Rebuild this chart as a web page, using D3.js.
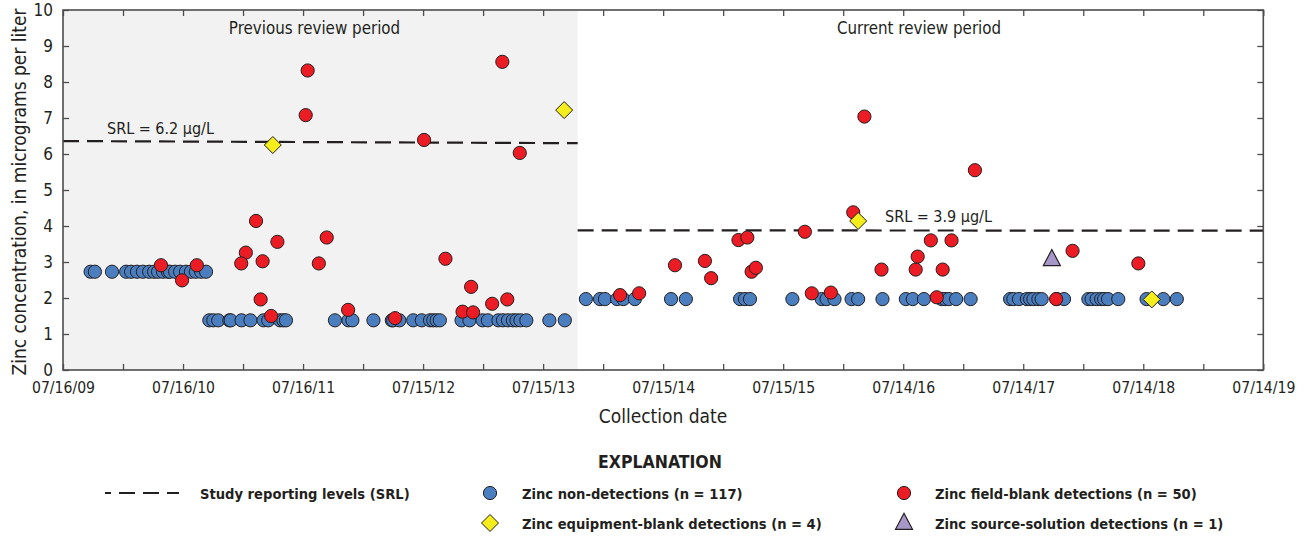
<!DOCTYPE html>
<html><head><meta charset="utf-8">
<script src="https://cdn.jsdelivr.net/npm/d3@7"></script>
<style>
body{margin:0;background:#fff}
text{font-family:"DejaVu Sans Condensed","Liberation Sans Narrow",sans-serif;fill:#231f20}
</style>
</head><body>
<svg id="c" width="1304" height="537"></svg>
<script>
// ---------- data ----------
const xDomain = ["2009-07-16", "2019-07-14"];
const xTickLabels = ["07/16/09","07/16/10","07/16/11","07/15/12","07/15/13","07/15/14","07/15/15","07/14/16","07/14/17","07/14/18","07/14/19"];
const yTicks = [0,1,2,3,4,5,6,7,8,9,10];
const periodBoundary = "2013-10-28";
const periodLabels = ["Previous review period", "Current review period"];

const srlLabels = ["SRL = 6.2 µg/L", "SRL = 3.9 µg/L"];
const srlStartDates = ["2009-07-16", "2013-10-28"];
const srlEndDates = ["2013-10-28", "2019-07-14"];
const srlStartValues = [6.36, 3.88];
const srlEndValues = [6.30, 3.87];

const nonDetectDates = [
 "2009-10-08","2009-10-21","2009-12-12","2010-01-24","2010-02-08","2010-02-26","2010-03-16","2010-04-04","2010-04-19","2010-05-01",
 "2010-05-16","2010-05-31","2010-06-06","2010-06-22","2010-07-07","2010-07-25","2010-08-09","2010-08-24","2010-09-09","2010-09-24",
 "2010-10-04","2010-10-16","2010-10-31","2010-12-04","2010-12-08","2011-01-10","2011-02-06","2011-03-18","2011-04-01","2011-05-07",
 "2011-05-17","2011-05-25","2011-10-21","2011-12-01","2011-12-13","2012-02-15","2012-04-11","2012-04-15","2012-05-04","2012-06-15",
 "2012-07-11","2012-08-05","2012-08-15","2012-08-25","2012-09-04","2012-11-09","2012-12-03","2013-01-12","2013-01-28","2013-03-01",
 "2013-03-15","2013-03-30","2013-04-14","2013-04-25","2013-05-07","2013-05-25","2013-08-03","2013-09-19",
 "2013-11-22","2014-01-04","2014-01-19","2014-02-25","2014-03-16","2014-04-20","2014-08-08","2014-09-22","2015-03-06","2015-03-21",
 "2015-04-05","2015-08-12","2015-11-09","2015-11-24","2015-12-18","2016-02-08","2016-02-28","2016-05-12","2016-07-22","2016-08-12",
 "2016-09-15","2016-11-08","2016-11-18","2016-11-30","2016-12-22","2017-02-04","2017-06-04","2017-06-14","2017-07-01","2017-07-25",
 "2017-08-04","2017-08-14","2017-08-29","2017-09-08","2017-10-24","2017-11-15","2018-01-28","2018-02-07","2018-02-22","2018-03-08",
 "2018-03-17","2018-03-29","2018-04-29","2018-07-24","2018-09-13","2018-10-24"
];
const nonDetectValues = [
 2.73,2.73,2.73,2.73,2.73,2.73,2.73,2.73,2.73,2.73,
 2.73,2.73,2.73,2.73,2.73,2.73,2.73,2.73,2.73,2.73,
 1.38,1.38,1.38,1.38,1.38,1.38,1.38,1.38,1.38,1.38,
 1.38,1.38,1.38,1.38,1.38,1.38,1.38,1.38,1.38,1.38,
 1.38,1.38,1.38,1.38,1.38,1.38,1.38,1.38,1.38,1.38,
 1.38,1.38,1.38,1.38,1.38,1.38,1.38,1.38,
 1.97,1.97,1.97,1.97,1.97,1.97,1.97,1.97,1.97,1.97,
 1.97,1.97,1.97,1.97,1.97,1.97,1.97,1.97,1.97,1.97,
 1.97,1.97,1.97,1.97,1.97,1.97,1.97,1.97,1.97,1.97,
 1.97,1.97,1.97,1.97,1.97,1.97,1.97,1.97,1.97,1.97,
 1.97,1.97,1.97,1.97,1.97,1.97
];

const fieldBlankDates = [
 "2010-05-10","2010-07-13","2010-08-27","2011-02-23","2011-04-29","2011-01-23","2011-01-09","2011-03-15","2011-03-09","2011-04-10",
 "2011-07-30","2011-07-24","2011-09-26","2011-09-02","2011-11-30","2012-04-21","2012-07-18","2012-09-21","2012-11-12","2012-12-08",
 "2012-12-14","2013-02-10","2013-03-13","2013-03-28","2013-05-05",
 "2014-03-06","2014-05-03","2014-08-20","2014-11-19","2014-12-08","2015-03-01","2015-03-28","2015-04-10","2015-04-23","2015-09-19",
 "2015-10-10","2015-12-07","2016-02-13","2016-03-18","2016-05-09","2016-08-21","2016-08-27","2016-10-06","2016-10-24","2016-11-11",
 "2016-12-08","2017-02-17","2017-10-22","2017-12-11","2018-06-29"
];
const fieldBlankValues = [
 2.91,2.49,2.91,4.14,3.56,3.26,2.96,3.02,1.96,1.50,
 8.32,7.08,3.68,2.96,1.67,1.44,6.39,3.09,1.62,2.31,
 1.60,1.84,8.56,1.96,6.03,
 2.08,2.13,2.91,3.03,2.55,3.61,3.68,2.73,2.84,3.84,
 2.13,2.15,4.38,7.04,2.79,2.79,3.15,3.60,2.02,2.79,
 3.60,5.55,1.97,3.31,2.96
];

const equipBlankDates = ["2011-04-15","2013-09-17","2016-02-28","2018-08-09"];
const equipBlankValues = [6.25,7.22,4.14,1.96];

const sourceSolutionDates = ["2017-10-09"];
const sourceSolutionValues = [3.05];

const legendLabels = [
 "Study reporting levels (SRL)",
 "Zinc non-detections (n = 117)",
 "Zinc field-blank detections (n = 50)",
 "Zinc equipment-blank detections (n = 4)",
 "Zinc source-solution detections (n = 1)"
];

// ---------- setup ----------
const parseISO = d3.utcParse("%Y-%m-%d");
const parseTick = d3.utcParse("%m/%d/%y");
const svg = d3.select("#c");
const L = 63, R = 1263.3, T = 10, B = 370;

const x = d3.scaleUtc().domain(xDomain.map(parseISO)).range([L, R]);
const y = d3.scaleLinear().domain([0, 10]).range([B, T]);

const COL = {blue:"#4a7ebf", red:"#ec1c24", yellow:"#f6ee1c", purple:"#a796c8", stroke:"#231f20", frame:"#4d4d4d"};

// shaded previous period
svg.append("rect")
  .attr("x", L).attr("y", T)
  .attr("width", x(parseISO(periodBoundary)) - L)
  .attr("height", B - T)
  .attr("fill", "#f2f2f2");

// period labels
svg.append("text").attr("x", 314.5).attr("y", 34)
  .attr("text-anchor", "middle").style("font-size", "16.8px").text(periodLabels[0]);
svg.append("text").attr("x", 919).attr("y", 34)
  .attr("text-anchor", "middle").style("font-size", "16.8px").text(periodLabels[1]);

// ticks
const majorTicks = xTickLabels.map(parseTick);
const minorTicks = [];
for (let i = 0; i < majorTicks.length - 1; i++) {
  minorTicks.push(new Date((majorTicks[i].getTime() + majorTicks[i+1].getTime()) / 2));
}
const allXTicks = majorTicks.concat(minorTicks);
const TL = 6;

const bottomAxis = d3.axisBottom(x).tickValues(majorTicks).tickSizeInner(-TL).tickSizeOuter(0)
  .tickFormat((d, i) => xTickLabels[i]).tickPadding(TL + 6);
const gB = svg.append("g").attr("transform", `translate(0,${B})`).call(bottomAxis);
gB.select(".domain").remove();
gB.selectAll(".tick line").attr("stroke", COL.frame).attr("stroke-width", 1.3);
gB.selectAll(".tick text").style("font-size", "15.6px").style("font-family", null).attr("fill", "#231f20");

const gBm = svg.append("g").attr("transform", `translate(0,${B})`)
  .call(d3.axisBottom(x).tickValues(minorTicks).tickSizeInner(-TL).tickSizeOuter(0).tickFormat(""));
gBm.select(".domain").remove();
gBm.selectAll(".tick line").attr("stroke", COL.frame).attr("stroke-width", 1.3);

const gT = svg.append("g").attr("transform", `translate(0,${T})`)
  .call(d3.axisTop(x).tickValues(allXTicks).tickSizeInner(-TL).tickSizeOuter(0).tickFormat(""));
gT.select(".domain").remove();
gT.selectAll(".tick line").attr("stroke", COL.frame).attr("stroke-width", 1.3);

const gL = svg.append("g").attr("transform", `translate(${L},0)`)
  .call(d3.axisLeft(y).tickValues(yTicks).tickSizeInner(-TL).tickSizeOuter(0).tickPadding(TL + 4).tickFormat(d3.format("d")));
gL.select(".domain").remove();
gL.selectAll(".tick line").attr("stroke", COL.frame).attr("stroke-width", 1.3);
gL.selectAll(".tick text").style("font-size", "17px").style("font-family", null).attr("fill", "#231f20");

const gR = svg.append("g").attr("transform", `translate(${R},0)`)
  .call(d3.axisRight(y).tickValues(yTicks).tickSizeInner(-TL).tickSizeOuter(0).tickFormat(""));
gR.select(".domain").remove();
gR.selectAll(".tick line").attr("stroke", COL.frame).attr("stroke-width", 1.3);

// SRL lines
srlLabels.forEach((lab, i) => {
  svg.append("line")
    .attr("x1", x(parseISO(srlStartDates[i]))).attr("y1", y(srlStartValues[i]))
    .attr("x2", x(parseISO(srlEndDates[i]))).attr("y2", y(srlEndValues[i]))
    .attr("stroke", "#231f20").attr("stroke-width", 2.2).attr("stroke-dasharray", "16,8");
});
svg.append("text").attr("x", 107).attr("y", y(srlStartValues[0]) - 7).style("font-size", "16px").text(srlLabels[0]);
svg.append("text").attr("x", 885).attr("y", y(srlStartValues[1]) - 8).style("font-size", "16px").text(srlLabels[1]);

// frame
svg.append("rect").attr("x", L).attr("y", T).attr("width", R - L).attr("height", B - T)
  .attr("fill", "none").attr("stroke", COL.frame).attr("stroke-width", 1.6);

// markers
const r = 6.6;
svg.append("g").selectAll("circle").data(nonDetectDates).join("circle")
  .attr("cx", d => x(parseISO(d))).attr("cy", (d, i) => y(nonDetectValues[i])).attr("r", r)
  .attr("fill", COL.blue).attr("stroke", COL.stroke).attr("stroke-width", 1);

svg.append("g").selectAll("circle").data(fieldBlankDates).join("circle")
  .attr("cx", d => x(parseISO(d))).attr("cy", (d, i) => y(fieldBlankValues[i])).attr("r", r)
  .attr("fill", COL.red).attr("stroke", COL.stroke).attr("stroke-width", 1);

const diamond = h => `M0,${-h}L${h},0L0,${h}L${-h},0Z`;
const triangle = (w, h) => `M0,${-h*2/3}L${w/2},${h/3}L${-w/2},${h/3}Z`;

svg.append("g").selectAll("path").data(equipBlankDates).join("path")
  .attr("d", diamond(8.5))
  .attr("transform", (d, i) => `translate(${x(parseISO(d))},${y(equipBlankValues[i])})`)
  .attr("fill", COL.yellow).attr("stroke", COL.stroke).attr("stroke-width", 1);

svg.append("g").selectAll("path").data(sourceSolutionDates).join("path")
  .attr("d", triangle(17, 16))
  .attr("transform", (d, i) => `translate(${x(parseISO(d))},${y(sourceSolutionValues[i])})`)
  .attr("fill", COL.purple).attr("stroke", COL.stroke).attr("stroke-width", 1.2);

// axis titles
svg.append("text").attr("transform", `translate(26,${(T + B) / 2 + 2}) rotate(-90)`)
  .attr("text-anchor", "middle").style("font-size", "19px").text("Zinc concentration, in micrograms per liter");
svg.append("text").attr("x", 663).attr("y", 423).attr("text-anchor", "middle")
  .style("font-size", "19px").text("Collection date");

// legend
svg.append("text").attr("x", 660).attr("y", 468).attr("text-anchor", "middle")
  .style("font-size", "17.5px").style("font-weight", "bold").text("EXPLANATION");

const lg = svg.append("g").style("font-weight", "bold").style("font-size", "14.6px");
lg.append("line").attr("x1", 105).attr("x2", 179).attr("y1", 493).attr("y2", 493)
  .attr("stroke", "#231f20").attr("stroke-width", 2.2).attr("stroke-dasharray", "16,8").attr("stroke-dashoffset", 10);
lg.append("text").attr("x", 200).attr("y", 499).text(legendLabels[0]);

lg.append("circle").attr("cx", 490).attr("cy", 493).attr("r", r)
  .attr("fill", COL.blue).attr("stroke", COL.stroke);
lg.append("text").attr("x", 522).attr("y", 499).text(legendLabels[1]);

lg.append("circle").attr("cx", 904).attr("cy", 493).attr("r", r)
  .attr("fill", COL.red).attr("stroke", COL.stroke);
lg.append("text").attr("x", 935).attr("y", 499).text(legendLabels[2]);

lg.append("path").attr("d", diamond(8.5)).attr("transform", "translate(490,523)")
  .attr("fill", COL.yellow).attr("stroke", COL.stroke);
lg.append("text").attr("x", 522).attr("y", 529).text(legendLabels[3]);

lg.append("path").attr("d", triangle(17, 16)).attr("transform", "translate(904,524)")
  .attr("fill", COL.purple).attr("stroke", COL.stroke).attr("stroke-width", 1.2);
lg.append("text").attr("x", 935).attr("y", 529).text(legendLabels[4]);
</script>
</body></html>
